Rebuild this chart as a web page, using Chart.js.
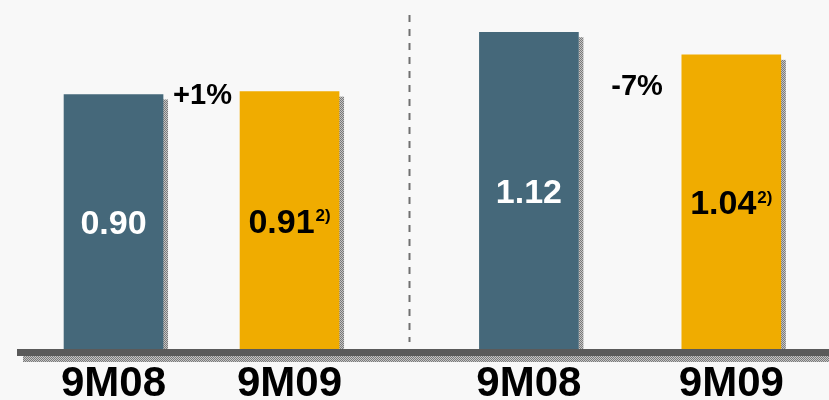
<!DOCTYPE html>
<html>
<head>
<meta charset="utf-8">
<script src="https://cdn.jsdelivr.net/npm/chart.js@4/dist/chart.umd.min.js"></script>
<style>
  html, body { margin: 0; padding: 0; background: #f8f8f8; }
  #wrap { width: 829px; height: 400px; }
</style>
</head>
<body>
<div id="wrap"><canvas id="c" width="829" height="400"></canvas></div>
<script>
// ---- data ----
const categories = ['9M08', '9M09', '9M08', '9M09'];
const values = [0.90, 0.91, 1.12, 1.04];
const valueNotes = ['', '2)', '', '2)'];
const changeLabels = ['+1%', '-7%'];
const groupPositions = [1, 2, 3.36, 4.51];

const FONT = '"Liberation Sans", Arial, sans-serif';
const BLUE = '#45687a';
const YELLOW = '#f0ac00';
const barColors = [BLUE, YELLOW, BLUE, YELLOW];
const labelColors = ['#ffffff', '#000000', '#ffffff', '#000000'];

function makePattern(ctx) {
  const p = document.createElement('canvas');
  p.width = 2; p.height = 2;
  const pc = p.getContext('2d');
  pc.fillStyle = '#c4c4c4'; pc.fillRect(0, 0, 2, 2);
  pc.fillStyle = '#7a7a7a'; pc.fillRect(0, 0, 1, 1); pc.fillRect(1, 1, 1, 1);
  return ctx.createPattern(p, 'repeat');
}

const decor = {
  id: 'decor',
  beforeDraw(chart) {
    const ctx = chart.ctx;
    ctx.save();
    ctx.fillStyle = '#f8f8f8';
    ctx.fillRect(0, 0, chart.width, chart.height);
    ctx.restore();
  },
  beforeDatasetsDraw(chart) {
    const ctx = chart.ctx, area = chart.chartArea;
    const pat = makePattern(ctx);
    const meta = chart.getDatasetMeta(0);
    ctx.save();
    // bar shadows
    ctx.fillStyle = pat;
    meta.data.forEach(bar => {
      const w = bar.width;
      ctx.fillRect(bar.x + w / 2, bar.y + 5, 5, bar.base - bar.y - 5);
    });
    // divider between the two groups
    const xs = chart.scales.x;
    const midX = Math.round((xs.getPixelForValue(groupPositions[1]) + xs.getPixelForValue(groupPositions[2])) / 2) + 0.5;
    ctx.strokeStyle = '#707070';
    ctx.lineWidth = 2;
    ctx.setLineDash([7, 7]);
    ctx.beginPath();
    ctx.moveTo(midX, 15);
    ctx.lineTo(midX, area.bottom - 7);
    ctx.stroke();
    ctx.restore();
  },
  afterDatasetsDraw(chart) {
    const ctx = chart.ctx, area = chart.chartArea;
    const pat = makePattern(ctx);
    const meta = chart.getDatasetMeta(0);
    const ys = chart.scales.y;
    ctx.save();
    // baseline + shadow
    ctx.fillStyle = pat;
    ctx.fillRect(23, area.bottom + 7, area.right - 23, 6);
    ctx.fillStyle = '#5a5a5a';
    ctx.fillRect(17, area.bottom, area.right - 17, 7);

    // value labels
    ctx.textBaseline = 'middle';
    meta.data.forEach((bar, i) => {
      const main = values[i].toFixed(2);
      const note = valueNotes[i];
      ctx.font = 'bold 34px ' + FONT;
      const mw = ctx.measureText(main).width;
      ctx.font = 'bold 17px ' + FONT;
      const nw = note ? ctx.measureText(note).width + 1 : 0;
      const cy = (bar.y + bar.base) / 2 + 3;
      const x0 = bar.x - (mw + nw) / 2;
      ctx.fillStyle = labelColors[i];
      ctx.textAlign = 'left';
      ctx.font = 'bold 34px ' + FONT;
      ctx.fillText(main, x0, cy);
      if (note) {
        ctx.font = 'bold 17px ' + FONT;
        ctx.fillText(note, x0 + mw + 1, cy - 7);
      }
    });

    // change labels between bars
    ctx.fillStyle = '#000';
    ctx.textAlign = 'center';
    ctx.font = 'bold 29px ' + FONT;
    const chY = [0.894, 0.926];
    changeLabels.forEach((t, g) => {
      const a = meta.data[g * 2], b = meta.data[g * 2 + 1];
      const cx = (a.x + b.x) / 2 + (g === 1 ? 7 : 1);
      ctx.fillText(t, cx, ys.getPixelForValue(chY[g]));
    });
    ctx.restore();
  }
};

new Chart(document.getElementById('c'), {
  type: 'bar',
  data: {
    datasets: [{
      data: values.map((v, i) => ({ x: groupPositions[i], y: v })),
      backgroundColor: barColors,
      borderWidth: 0,
      barThickness: 99,
      grouped: false
    }]
  },
  options: {
    responsive: false,
    animation: false,
    events: [],
    layout: { padding: 0 },
    plugins: { legend: { display: false }, tooltip: { enabled: false } },
    scales: {
      x: {
        type: 'linear',
        offset: false,
        min: 0.355,
        max: 5.065,
        grid: { display: false, drawTicks: false, offset: false },
        border: { display: false },
        afterBuildTicks: s => { s.ticks = groupPositions.map(v => ({ value: v })); },
        afterFit: s => { s.height = 51; },
        ticks: {
          autoSkip: false,
          maxRotation: 0,
          padding: 14,
          color: '#000',
          font: { family: FONT, size: 42, weight: 'bold', lineHeight: 1 },
          callback: (v, i) => categories[i]
        }
      },
      y: { display: false, min: 0, max: 1.234 }
    }
  },
  plugins: [decor]
});
</script>
</body>
</html>
